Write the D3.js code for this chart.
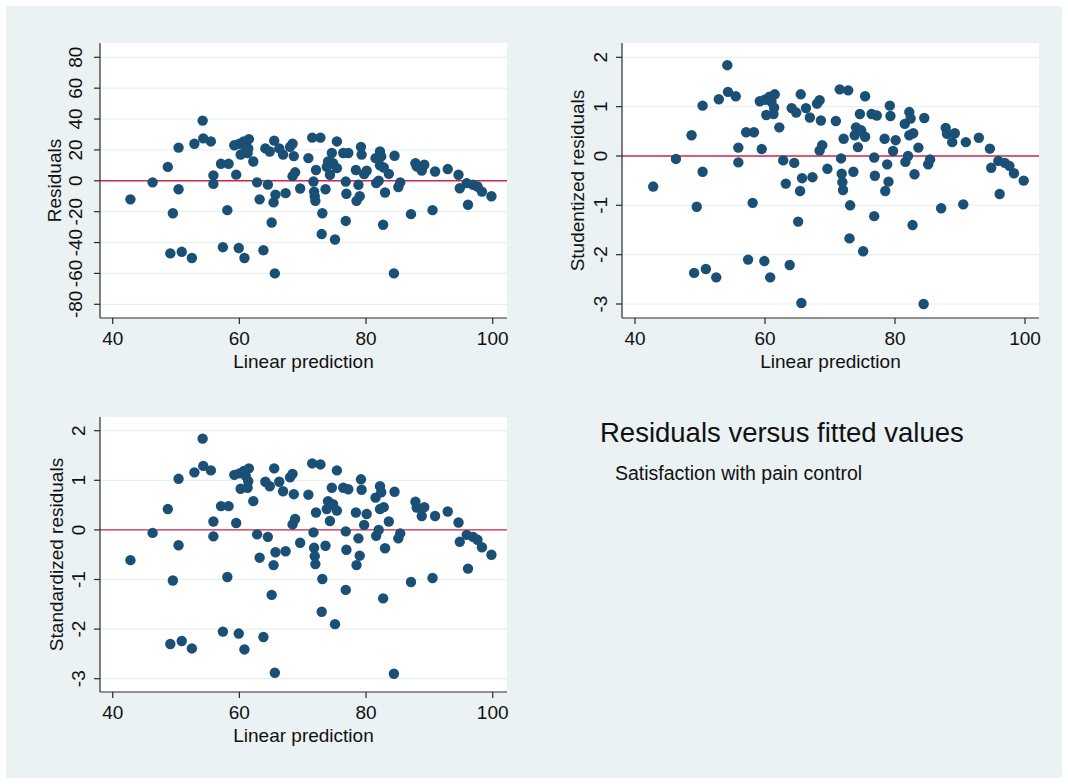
<!DOCTYPE html>
<html>
<head>
<meta charset="utf-8">
<script src="https://cdn.jsdelivr.net/npm/d3@7"></script>
<style>
  html, body { margin: 0; padding: 0; background: #ffffff; }
  svg { display: block; font-family: "Liberation Sans", Arial, Helvetica, sans-serif; }
</style>
</head>
<body>
<svg id="chart" width="1068" height="784"></svg>
<script>
// ---- data ----
const linearPrediction = [42.8,46.3,48.7,49.1,49.5,50.4,50.4,50.9,52.5,52.9,54.2,54.3,55.5,55.9,55.9,57.1,57.4,58.1,58.3,59.2,59.5,59.9,60.0,60.2,60.7,60.8,61.0,61.3,61.5,61.4,62.2,62.8,63.2,63.8,64.1,64.5,64.8,65.1,65.4,65.5,65.6,65.7,66.3,66.9,67.3,68.0,68.4,68.6,68.4,68.8,69.6,70.9,71.5,71.7,71.8,71.9,72.0,72.1,72.8,73.1,73.0,73.6,73.8,74.0,74.3,74.6,74.8,75.1,75.4,75.4,76.4,76.8,76.8,76.9,77.2,78.4,78.5,78.8,79.0,79.2,79.3,79.7,80.1,81.5,81.6,82.0,82.2,82.2,82.4,82.7,82.8,83.0,83.6,84.5,84.4,85.1,85.4,87.1,87.8,88.0,88.8,89.2,90.5,90.9,92.9,94.6,94.8,95.9,96.1,96.9,97.6,98.3,99.8];
const residuals = [-12,-1,9,-47,-21,21.5,-5.5,-46,-50,24,39,27.5,25.5,3.5,-2,11,-43,-19,11,23,4,-43.5,24,17,25.5,-50,22,18,27,21,12.5,-1,-12,-45,21,-2.5,19,-27,-14,26,-60,-9,21,17,-8,22,24,16,3,5.5,-5,14.7,28,-0.5,-7,-10,-13,7,28,-21,-34.5,-5.5,9,12.5,3.9,18,11.4,-38,25.5,8.2,18,-26,-0.5,-8.4,18,7,-13,-2.6,-10,22,17,4.3,6.5,14.7,-1.5,0,19,10,15.8,-28.5,8.6,-7.6,4.5,16.2,-60,-4,-1,-21.6,11.4,9.3,6.7,10.4,-19,6,7.6,3.9,-4.8,-1.5,-15.5,-2.6,-3.7,-7,-10];
const studentized = [-0.62,-0.06,0.42,-2.37,-1.03,1.02,-0.32,-2.29,-2.46,1.15,1.84,1.30,1.21,0.17,-0.13,0.48,-2.10,-0.95,0.48,1.11,0.14,-2.13,1.14,0.83,1.20,-2.46,1.10,0.85,1.25,0.98,0.58,-0.09,-0.56,-2.21,0.97,-0.14,0.88,-1.33,-0.71,1.25,-2.98,-0.45,0.97,0.78,-0.43,1.06,1.13,0.72,0.11,0.22,-0.26,0.71,1.35,-0.05,-0.36,-0.53,-0.69,0.35,1.33,-1.00,-1.67,-0.32,0.42,0.58,0.18,0.85,0.52,-1.93,1.21,0.39,0.85,-1.22,-0.03,-0.40,0.82,0.35,-0.71,-0.17,-0.52,1.02,0.81,0.10,0.32,0.65,-0.12,0.0,0.89,0.42,0.76,-1.40,0.46,-0.37,0.17,0.77,-3.00,-0.17,-0.07,-1.06,0.57,0.45,0.28,0.46,-0.98,0.28,0.37,0.15,-0.24,-0.10,-0.77,-0.14,-0.20,-0.35,-0.50];
const standardized = [-0.61,-0.06,0.42,-2.30,-1.02,1.03,-0.31,-2.24,-2.39,1.16,1.84,1.29,1.20,0.17,-0.13,0.48,-2.05,-0.95,0.48,1.11,0.14,-2.09,1.14,0.83,1.19,-2.41,1.09,0.85,1.24,0.98,0.58,-0.09,-0.56,-2.16,0.97,-0.14,0.88,-1.31,-0.71,1.24,-2.88,-0.45,0.97,0.78,-0.43,1.06,1.13,0.72,0.11,0.22,-0.26,0.71,1.34,-0.05,-0.36,-0.53,-0.69,0.35,1.32,-0.99,-1.65,-0.32,0.42,0.58,0.18,0.85,0.52,-1.90,1.20,0.39,0.85,-1.21,-0.03,-0.40,0.82,0.35,-0.71,-0.17,-0.52,1.02,0.81,0.10,0.32,0.65,-0.12,0.0,0.88,0.42,0.76,-1.38,0.46,-0.37,0.17,0.77,-2.90,-0.17,-0.07,-1.05,0.57,0.45,0.28,0.46,-0.97,0.28,0.37,0.15,-0.24,-0.10,-0.78,-0.14,-0.20,-0.35,-0.50];
const xTicks = [40, 60, 80, 100];
const residTicks = [-80, -60, -40, -20, 0, 20, 40, 60, 80];
const stdTicks = [-3, -2, -1, 0, 1, 2];
const xTitle = "Linear prediction";
const chartTitle = "Residuals versus fitted values";
const chartSubtitle = "Satisfaction with pain control";

// ---- drawing ----
const svg = d3.select("#chart");
const BG = "#eaf2f3", DOT = "#1a5075", RED = "#d0284c", GRID = "#e9f0f1", AXIS = "#2a2a2a";

svg.append("rect").attr("x", 6).attr("y", 6).attr("width", 1056).attr("height", 772).attr("fill", BG);

function panel(opt) {
  const g = svg.append("g");
  const x = d3.scaleLinear().domain([40, 100]).range([opt.x40, opt.x100]);
  const y = d3.scaleLinear().domain([opt.yLo, opt.yHi]).range([opt.yLoPx, opt.yHiPx]);
  g.append("rect").attr("x", opt.left).attr("y", opt.top)
    .attr("width", opt.right - opt.left).attr("height", opt.bottom - opt.top).attr("fill", "#ffffff");
  g.selectAll(".grid").data(opt.yTicks).join("line")
    .attr("x1", opt.left).attr("x2", opt.right)
    .attr("y1", d => y(d)).attr("y2", d => y(d))
    .attr("stroke", GRID).attr("stroke-width", 1.2);
  g.append("line").attr("x1", opt.left).attr("x2", opt.right)
    .attr("y1", y(0)).attr("y2", y(0)).attr("stroke", RED).attr("stroke-width", 1.4);
  g.selectAll(".pt").data(opt.xs.map((v, i) => [v, opt.ys[i]])).join("circle")
    .attr("cx", d => x(d[0])).attr("cy", d => y(d[1])).attr("r", 5.2).attr("fill", DOT);

  const ya = g.append("g").attr("transform", `translate(${opt.left},0)`);
  ya.append("line").attr("x1", 0).attr("x2", 0).attr("y1", opt.top).attr("y2", opt.bottom)
    .attr("stroke", AXIS).attr("stroke-width", 1.2);
  ya.selectAll(".yt").data(opt.yTicks).join("line")
    .attr("x1", -6).attr("x2", 0).attr("y1", d => y(d)).attr("y2", d => y(d))
    .attr("stroke", AXIS).attr("stroke-width", 1.2);
  ya.selectAll(".yl").data(opt.yTicks).join("text")
    .attr("transform", d => `translate(${opt.yLabX - opt.left},${y(d)}) rotate(-90)`)
    .attr("dy", "0.35em").attr("text-anchor", "middle")
    .attr("font-size", 19).attr("fill", "#111").text(d => d);
  g.append("text").attr("transform", `translate(${opt.yTitleX},${(opt.top + opt.bottom) / 2}) rotate(-90)`)
    .attr("dy", "0.35em").attr("text-anchor", "middle").attr("font-size", 19).attr("fill", "#111")
    .text(opt.yTitle);

  const xa = g.append("g").attr("transform", `translate(0,${opt.bottom})`);
  xa.append("line").attr("x1", opt.left).attr("x2", opt.right).attr("y1", 0).attr("y2", 0)
    .attr("stroke", AXIS).attr("stroke-width", 1.2);
  xa.selectAll(".xt").data(xTicks).join("line")
    .attr("x1", d => x(d)).attr("x2", d => x(d)).attr("y1", 0).attr("y2", 6)
    .attr("stroke", AXIS).attr("stroke-width", 1.2);
  xa.selectAll(".xl").data(xTicks).join("text")
    .attr("x", d => x(d)).attr("y", 20).attr("dy", "0.35em").attr("text-anchor", "middle")
    .attr("font-size", 19).attr("fill", "#111").text(d => d);
  xa.append("text").attr("x", (opt.left + opt.right) / 2).attr("y", 43).attr("dy", "0.35em")
    .attr("text-anchor", "middle").attr("font-size", 19).attr("fill", "#111").text(xTitle);
}

panel({ left: 100, right: 507, top: 43, bottom: 318, x40: 112.7, x100: 492.7,
  yLo: -80, yHi: 80, yLoPx: 304.3, yHiPx: 57.3, yTicks: residTicks,
  xs: linearPrediction, ys: residuals, yTitle: "Residuals", yLabX: 75, yTitleX: 54 });

panel({ left: 622, right: 1039, top: 43, bottom: 318, x40: 635, x100: 1025,
  yLo: -3, yHi: 2, yLoPx: 304, yHiPx: 57.3, yTicks: stdTicks,
  xs: linearPrediction, ys: studentized, yTitle: "Studentized residuals", yLabX: 600, yTitleX: 577 });

panel({ left: 100, right: 507, top: 417, bottom: 692, x40: 112.7, x100: 492.7,
  yLo: -3, yHi: 2, yLoPx: 678.7, yHiPx: 430.7, yTicks: stdTicks,
  xs: linearPrediction, ys: standardized, yTitle: "Standardized residuals", yLabX: 78, yTitleX: 56 });

svg.append("text").attr("x", 600).attr("y", 442).attr("font-size", 27.5).attr("fill", "#111").text(chartTitle);
svg.append("text").attr("x", 615).attr("y", 480).attr("font-size", 19.5).attr("fill", "#111").text(chartSubtitle);
</script>
</body>
</html>
